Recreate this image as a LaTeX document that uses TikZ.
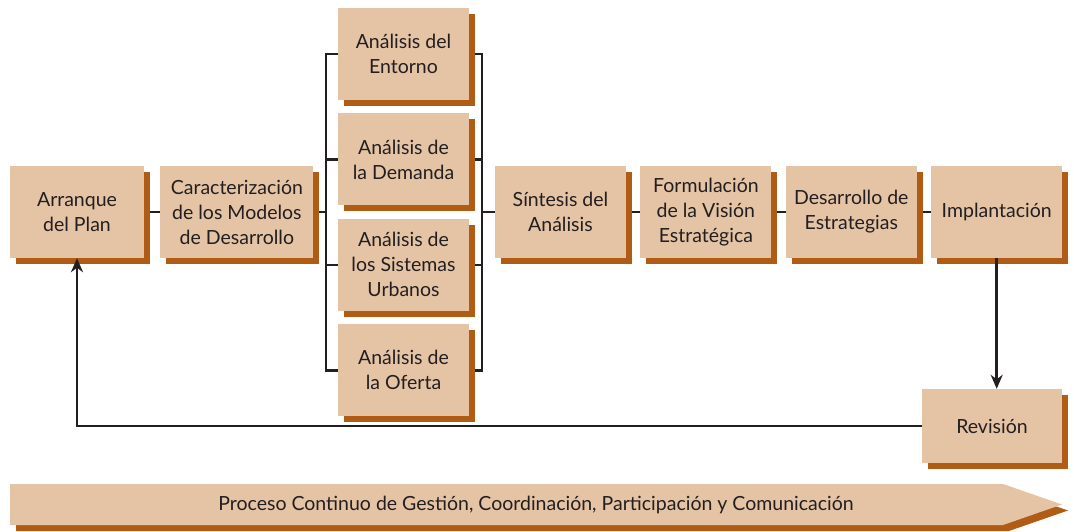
\documentclass[tikz,border=0pt]{standalone}
\usepackage{fontspec}
\setmainfont{Lato}
\usetikzlibrary{positioning,shadows,arrows.meta,backgrounds}
\definecolor{boxfill}{RGB}{229,195,165}
\definecolor{boxshade}{RGB}{176,92,20}
\definecolor{linegray}{RGB}{35,31,32}

\begin{document}
\begin{tikzpicture}[x=1pt, y=-1pt,
    every node/.style = {font=\fontsize{19.5}{25}\selectfont, text=linegray},
    box/.style = {shape=rectangle, fill=boxfill, align=center, inner sep=0pt,
        minimum width=131pt, minimum height=92pt,
        drop shadow={shadow xshift=6pt, shadow yshift=-6pt, fill=boxshade, opacity=1}},
    link/.style = {draw=linegray, line width=2.6pt},
    flow/.style = {link, -{Stealth[length=14pt, width=12pt]}},
    node distance=14pt]
    \useasboundingbox (0,0) rectangle (1074,532);

    % main row
    \node[box, minimum width=134pt] (arr) at (77,212) {Arranque\\del Plan};
    \node[box, minimum width=153pt, right=16pt of arr] (car) {Caracterización\\de los Modelos\\de Desarrollo};

    % analysis column
    \node[box] (ent) at (403.5,54) {Análisis del\\Entorno};
    \node[box, below=13pt of ent] (dem) {Análisis de\\la Demanda};
    \node[box, below=13pt of dem] (sis) {Análisis de\\los Sistemas\\Urbanos};
    \node[box, below=13pt of sis] (ofe) {Análisis de\\la Oferta};

    \node[box] (sin) at (560.5,212) {Síntesis del\\Análisis};
    \node[box, right=of sin] (for) {Formulación\\de la Visión\\Estratégica};
    \node[box, right=of for] (des) {Desarrollo de\\Estrategias};
    \node[box, right=of des] (imp) {Implantación};
    \node[box, minimum width=140pt, minimum height=74pt] (rev) at (992,426) {Revisión};

    % process band
    \fill[boxshade] (16,490) -- (1009,490) -- (1068,510.5) -- (1009,531) -- (16,531) -- cycle;
    \fill[boxfill] (10,484) -- (1003,484) -- (1062,504.5) -- (1003,525) -- (10,525) -- cycle;
    \node (pro) at (536,504.5) {Proceso Continuo de Gestión, Coordinación, Participación y Comunicación};

    \coordinate (bl) at (326,212);
    \coordinate (br) at (482,212);

    \begin{scope}[on background layer]
        \draw[link] (arr) -- (car);
        \draw[link] (car.east) -- (bl);
        \draw[link] (ent.west) -| (bl) |- (ofe.west);
        \draw[link] (dem.west) -- (dem.west -| bl);
        \draw[link] (sis.west) -- (sis.west -| bl);
        \draw[link] (ent.east) -| (br) |- (ofe.east);
        \draw[link] (dem.east) -- (dem.east -| br);
        \draw[link] (sis.east) -- (sis.east -| br);
        \draw[link] (br) -- (sin.west);
        \draw[link] (sin) -- (for);
        \draw[link] (for) -- (des);
        \draw[link] (des) -- (imp);
    \end{scope}

    % review loop
    \draw[flow] (imp.south) -- (imp.south |- rev.north);
    \draw[flow] (rev.west) -| (arr.south);
\end{tikzpicture}
\end{document}
